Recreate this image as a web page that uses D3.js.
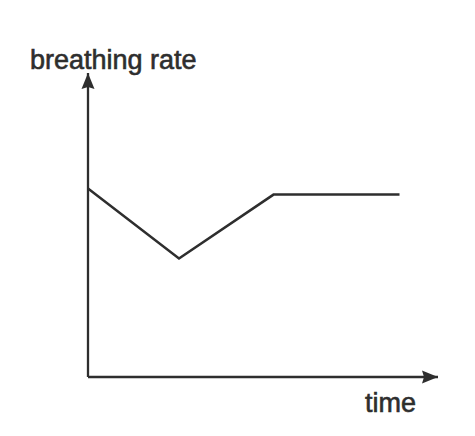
<!DOCTYPE html>
<html>
<head>
<meta charset="utf-8">
<script src="https://cdnjs.cloudflare.com/ajax/libs/d3/7.8.5/d3.min.js"></script>
<style>
  body { margin: 0; background: #fff; }
  text { font-family: "Liberation Sans", Arial, sans-serif; fill: #2e2e2e; stroke: #2e2e2e; stroke-width: 0.6; }
</style>
</head>
<body>
<svg id="chart" width="475" height="436"></svg>
<script>
// data (arbitrary units)
var times = [0, 26, 53, 89];
var rates = [62, 39, 60, 60];
var xLabel = "time";
var yLabel = "breathing rate";

var svg = d3.select("#chart");

var xScale = d3.scaleLinear().domain([0, 100]).range([88, 438]);
var yScale = d3.scaleLinear().domain([0, 100]).range([377, 73]);

var ink = "#2e2e2e";

// arrow heads
var defs = svg.append("defs");
defs.append("marker")
    .attr("id", "arrow")
    .attr("viewBox", "0 0 16 14")
    .attr("refX", 16)
    .attr("refY", 7)
    .attr("markerWidth", 16)
    .attr("markerHeight", 14)
    .attr("markerUnits", "userSpaceOnUse")
    .attr("orient", "auto")
  .append("path")
    .attr("d", "M0,0.5 L16,7 L0,13.5 L2,7 Z")
    .attr("fill", ink);

// y axis
svg.append("line")
    .attr("x1", xScale(0)).attr("y1", yScale(0))
    .attr("x2", xScale(0)).attr("y2", yScale(100))
    .attr("stroke", ink)
    .attr("stroke-width", 2.3)
    .attr("marker-end", "url(#arrow)");

// x axis
svg.append("line")
    .attr("x1", xScale(0)).attr("y1", yScale(0))
    .attr("x2", xScale(100)).attr("y2", yScale(0))
    .attr("stroke", ink)
    .attr("stroke-width", 2.3)
    .attr("marker-end", "url(#arrow)");

// the curve
var line = d3.line()
    .x(function(d, i) { return xScale(times[i]); })
    .y(function(d) { return yScale(d); });

svg.append("path")
    .attr("d", line(rates))
    .attr("fill", "none")
    .attr("stroke", ink)
    .attr("stroke-width", 2.5)
    .attr("stroke-linejoin", "miter");

// labels
svg.append("text")
    .attr("x", 30)
    .attr("y", 69)
    .attr("font-size", 27)
    .text(yLabel);

svg.append("text")
    .attr("x", 365)
    .attr("y", 412)
    .attr("font-size", 27)
    .text(xLabel);
</script>
</body>
</html>
